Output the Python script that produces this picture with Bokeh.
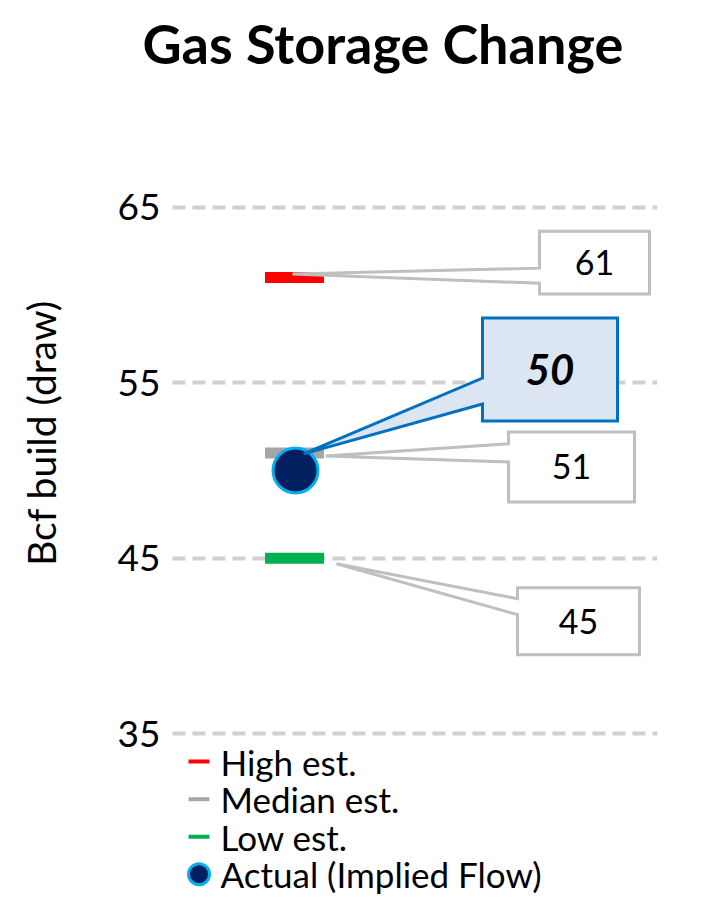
import math

from bokeh.core.properties import value
from bokeh.embed import file_html
from bokeh.models import FixedTicker, Label, Range1d
from bokeh.plotting import figure
from bokeh.resources import INLINE

# --- data -------------------------------------------------------------
est_names = ["High est.", "Median est.", "Low est."]
est_values = [61, 51, 45]
actual_name = "Actual (Implied Flow)"
actual_value = 50
y_ticks = [35, 45, 55, 65]

# --- styles -----------------------------------------------------------
est_colors = ["#FF0000", "#A6A6A6", "#00B050"]
actual_fill = "#002060"
actual_line = "#00B0F0"
grid_color = "#D0D0D0"
callout_line = "#BFBFBF"
hl_fill = "#DCE6F2"
hl_line = "#0070C0"
FONT = "Lato"
FONT_V = value(FONT)

# plot-area layout (x in plot units, the estimates sit at x = 0)
AXIS_X = -1.22          # where the value axis and the gridlines start
X_END = 3.63

# callout layout: box x-span, box top/bottom, wedge attach points and tip,
# all given relative to the value the callout describes (y in Bcf, x in plot units)
callout_layout = {
    61: dict(x0=2.45, x1=3.55, top=2.64, bot=-0.94, a_hi=0.54, a_lo=-0.32, tip_x=-0.02, tip_y=0.20),
    51: dict(x0=2.14, x1=3.40, top=1.20, bot=-2.79, a_hi=0.52, a_lo=-0.51, tip_x=0.31, tip_y=-0.17),
    45: dict(x0=2.23, x1=3.45, top=-1.69, bot=-5.50, a_hi=-2.31, a_lo=-3.22, tip_x=0.42, tip_y=-0.32),
}
actual_layout = dict(x0=1.88, x1=3.23, top=8.69, bot=2.83, a_hi=5.27, a_lo=3.79, tip_x=0.09, tip_y=0.95)

p = figure(
    width=705,
    height=900,
    x_range=Range1d(-2.94, X_END),
    y_range=Range1d(25.48, 72.24),
    x_axis_type=None,
    toolbar_location=None,
    output_backend="svg",
    min_border_left=0,
    min_border_right=48,
    min_border_top=80,
    min_border_bottom=0,
    title="Gas Storage Change",
)
p.outline_line_color = None
p.background_fill_color = "white"
p.border_fill_color = "white"

p.title.text_font = FONT
p.title.text_font_size = "54px"
p.title.text_font_style = "bold"
p.title.text_color = "black"
p.title.align = "left"
p.title.offset = 142

yax = p.yaxis[0]
yax.fixed_location = AXIS_X
yax.ticker = FixedTicker(ticks=y_ticks)
yax.axis_line_color = None
yax.major_tick_line_color = None
yax.minor_tick_line_color = None
yax.major_tick_out = 0
yax.major_tick_in = 0
yax.major_label_standoff = 12
yax.major_label_text_font = FONT
yax.major_label_text_font_size = "37px"
yax.major_label_text_color = "black"

p.xgrid.visible = False
p.ygrid.ticker = FixedTicker(ticks=y_ticks)
p.ygrid.cross_bounds = (AXIS_X, X_END)
p.ygrid.grid_line_color = grid_color
p.ygrid.grid_line_width = 4
p.ygrid.grid_line_dash = "13 7"

# axis title
p.add_layout(Label(x=-2.54, y=52.14, text="Bcf build (draw)", angle=math.pi / 2,
                   text_align="center", text_baseline="middle",
                   text_font=FONT, text_font_size="39px", text_color="black"))

# estimate markers
p.rect(x=[0] * len(est_values), y=est_values, width=0.59, height=11, height_units="screen",
       fill_color=est_colors, line_color=None)

# actual value
p.scatter(x=[0.01], y=[actual_value], size=45, fill_color=actual_fill,
          line_color=actual_line, line_width=3)


def callout(v, lay, fill, line, text, size, style):
    top, bot = v + lay["top"], v + lay["bot"]
    xs = [lay["x0"], lay["x1"], lay["x1"], lay["x0"], lay["x0"], lay["tip_x"], lay["x0"], lay["x0"]]
    ys = [top, top, bot, bot, v + lay["a_lo"], v + lay["tip_y"], v + lay["a_hi"], top]
    p.patch(xs, ys, fill_color=fill, line_color=line, line_width=3, line_join="miter")
    p.text(x=[(lay["x0"] + lay["x1"]) / 2], y=[(top + bot) / 2], text=[text],
           text_align="center", text_baseline="middle", text_font=FONT_V,
           text_font_size=size, text_font_style=style, text_color="black")


for v in est_values:
    callout(v, callout_layout[v], "white", callout_line, f"{v}", "34px", "normal")
callout(actual_value, actual_layout, hl_fill, hl_line, f"{actual_value}", "42px", "bold italic")

# legend, drawn below the 35 gridline
leg_x_line = (-1.06, -0.85)
leg_x_text = -0.74
leg_y0 = 33.40
leg_step = 2.14
for i, (name, col) in enumerate(zip(est_names, est_colors)):
    yy = leg_y0 - i * leg_step
    p.segment(x0=[leg_x_line[0]], y0=[yy], x1=[leg_x_line[1]], y1=[yy],
              line_color=col, line_width=4)
yy_act = leg_y0 - 3 * leg_step
p.scatter(x=[(leg_x_line[0] + leg_x_line[1]) / 2], y=[yy_act], size=21,
          fill_color=actual_fill, line_color=actual_line, line_width=3)
p.text(x=[leg_x_text] * 4, y=[leg_y0 - i * leg_step for i in range(4)],
       text=est_names + [actual_name], text_align="left", text_baseline="middle",
       text_font=FONT_V, text_font_size="35px", text_color="black")

open("out.html", "w").write(file_html(p, INLINE))
